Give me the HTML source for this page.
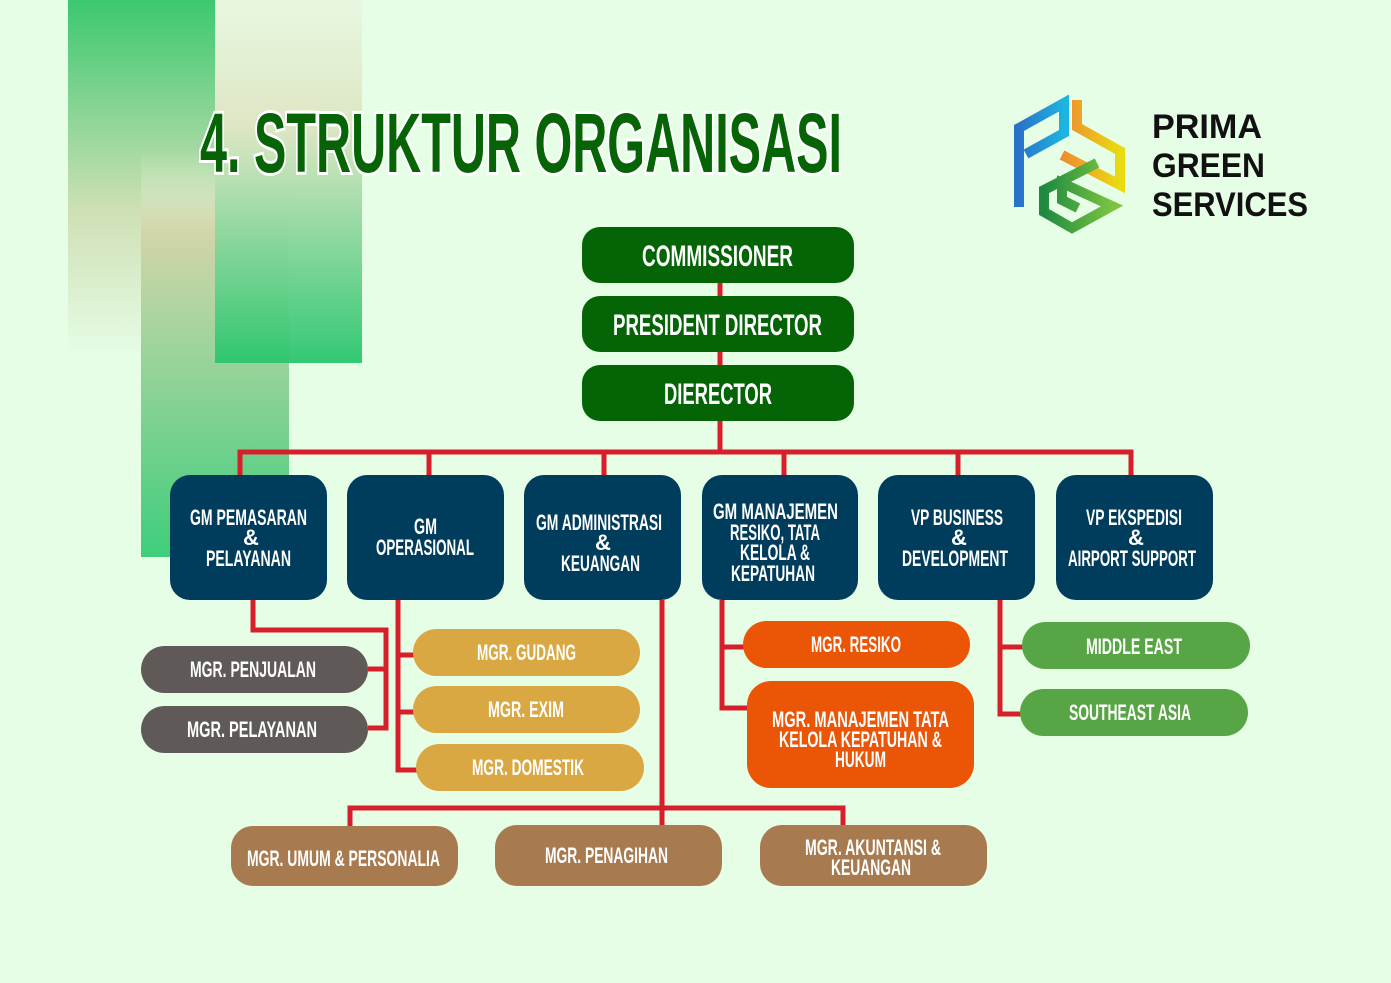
<!DOCTYPE html>
<html><head><meta charset="utf-8"><style>
html,body{margin:0;padding:0;background:#e6fde6;}
svg{display:block}
.t{font-family:"Liberation Sans Narrow","Liberation Sans",sans-serif;font-weight:bold;fill:#fff;text-anchor:start}
</style></head><body>
<svg width="1391" height="983" viewBox="0 0 1391 983" xmlns="http://www.w3.org/2000/svg">
<defs>
<linearGradient id="gA" x1="0" y1="0" x2="0" y2="1"><stop offset="0" stop-color="#3cc870"/><stop offset="0.6" stop-color="#cfe0b5"/><stop offset="1" stop-color="#e6fde6"/></linearGradient>
<linearGradient id="gB" x1="0" y1="0" x2="0" y2="1"><stop offset="0" stop-color="#e6fde6" stop-opacity="0"/><stop offset="0.2" stop-color="#d2d3a8"/><stop offset="1" stop-color="#2cc870"/></linearGradient>
<linearGradient id="gC" x1="0" y1="0" x2="0" y2="1"><stop offset="0" stop-color="#e8f7e0"/><stop offset="0.35" stop-color="#dde5c2"/><stop offset="1" stop-color="#2ac66e"/></linearGradient>
<linearGradient id="lgP" x1="0" y1="0" x2="1" y2="0"><stop offset="0" stop-color="#2a72c8"/><stop offset="1" stop-color="#1eb4e0"/></linearGradient>
<linearGradient id="lgS" x1="0" y1="0" x2="1" y2="0"><stop offset="0" stop-color="#f08a30"/><stop offset="1" stop-color="#e8dc10"/></linearGradient>
<linearGradient id="lgG" x1="0" y1="0" x2="1" y2="0"><stop offset="0" stop-color="#1e8a40"/><stop offset="1" stop-color="#7cc440"/></linearGradient>
</defs>
<rect x="68" y="0" width="147" height="355" fill="url(#gA)"/>
<rect x="141" y="150" width="148" height="407" fill="url(#gB)" opacity="0.9"/>
<rect x="215" y="0" width="147" height="363" fill="url(#gC)" opacity="0.95"/>

<text x="200" y="172" textLength="642" lengthAdjust="spacingAndGlyphs" style="font-family:'Liberation Sans Narrow','Liberation Sans',sans-serif;font-weight:bold;font-size:84px;fill:#066406;stroke:#fff;stroke-width:6;paint-order:stroke">4. STRUKTUR ORGANISASI</text>

<!-- logo -->
<g fill="none" stroke-width="10" stroke-linejoin="miter">
<path d="M1019,207 L1019,128 L1064,103 L1064,133 L1026,154" stroke="url(#lgP)"/>
<path d="M1077,100 L1077,127 L1120,151 L1120,185 L1062,155" stroke="url(#lgS)"/>
<path d="M1097,163 L1044,190 L1044,212 L1072,228 L1112,206 L1062,183 L1062,200 L1078,208" stroke="url(#lgG)"/>
</g>
<g style="font-family:'Liberation Sans',sans-serif;font-weight:bold;font-size:34px;fill:#111">
<text x="1152" y="138" textLength="110" lengthAdjust="spacingAndGlyphs">PRIMA</text>
<text x="1152" y="177" textLength="113" lengthAdjust="spacingAndGlyphs">GREEN</text>
<text x="1152" y="216" textLength="156" lengthAdjust="spacingAndGlyphs">SERVICES</text>
</g>

<!-- connectors -->
<g stroke="#d61f2a" stroke-width="5" fill="none">
<path d="M720,283 V452"/>
<path d="M240,477 V452 H1131 V477"/>
<path d="M429,452 V477 M604,452 V477 M784,452 V477 M958,452 V477"/>
<path d="M253,600 V630 H386 V728 H368 M368,669 H386"/>
<path d="M398,600 V770 H417 M398,655 H414 M398,712 H414"/>
<path d="M662,600 V826 M350,826 V808 H843 V826"/>
<path d="M722,600 V708 H748 M722,647 H744"/>
<path d="M1000,600 V714 H1021 M1000,647 H1023"/>
</g>

<!-- top boxes -->
<g fill="#056405">
<rect x="582" y="227" width="272" height="56" rx="18"/>
<rect x="582" y="296" width="272" height="56" rx="18"/>
<rect x="582" y="365" width="272" height="56" rx="18"/>
</g>
<g class="t" style="font-size:30px">
<text class="t" x="642" y="266" textLength="151" lengthAdjust="spacingAndGlyphs">COMMISSIONER</text>
<text class="t" x="613" y="335" textLength="209" lengthAdjust="spacingAndGlyphs">PRESIDENT DIRECTOR</text>
<text class="t" x="664" y="404" textLength="108" lengthAdjust="spacingAndGlyphs">DIERECTOR</text>
</g>

<!-- GM boxes -->
<g fill="#003c5c">
<rect x="170" y="475" width="157" height="125" rx="20"/>
<rect x="347" y="475" width="157" height="125" rx="20"/>
<rect x="524" y="475" width="157" height="125" rx="20"/>
<rect x="702" y="475" width="156" height="125" rx="20"/>
<rect x="878" y="475" width="157" height="125" rx="20"/>
<rect x="1056" y="475" width="157" height="125" rx="20"/>
</g>
<g class="t" style="font-size:22px">
<text class="t" x="190" y="525" textLength="117" lengthAdjust="spacingAndGlyphs">GM PEMASARAN</text>
<text class="t" x="243" y="545">&amp;</text>
<text class="t" x="206" y="566" textLength="85" lengthAdjust="spacingAndGlyphs">PELAYANAN</text>
<text class="t" x="414" y="534" textLength="23" lengthAdjust="spacingAndGlyphs">GM</text>
<text class="t" x="376" y="555" textLength="98" lengthAdjust="spacingAndGlyphs">OPERASIONAL</text>
<text class="t" x="536" y="530" textLength="126" lengthAdjust="spacingAndGlyphs">GM ADMINISTRASI</text>
<text class="t" x="595" y="550">&amp;</text>
<text class="t" x="561" y="571" textLength="79" lengthAdjust="spacingAndGlyphs">KEUANGAN</text>
<text class="t" x="713" y="519" textLength="125" lengthAdjust="spacingAndGlyphs">GM  MANAJEMEN</text>
<text class="t" x="730" y="540" textLength="90" lengthAdjust="spacingAndGlyphs">RESIKO, TATA</text>
<text class="t" x="740" y="560" textLength="70" lengthAdjust="spacingAndGlyphs">KELOLA &amp;</text>
<text class="t" x="731" y="581" textLength="84" lengthAdjust="spacingAndGlyphs">KEPATUHAN</text>
<text class="t" x="911" y="525" textLength="92" lengthAdjust="spacingAndGlyphs">VP BUSINESS</text>
<text class="t" x="951" y="545">&amp;</text>
<text class="t" x="902" y="566" textLength="106" lengthAdjust="spacingAndGlyphs">DEVELOPMENT</text>
<text class="t" x="1086" y="525" textLength="96" lengthAdjust="spacingAndGlyphs">VP EKSPEDISI</text>
<text class="t" x="1128" y="545">&amp;</text>
<text class="t" x="1068" y="566" textLength="128" lengthAdjust="spacingAndGlyphs">AIRPORT SUPPORT</text>
</g>

<!-- leaf boxes -->
<g fill="#5f5a58">
<rect x="141" y="646" width="227" height="47" rx="23.5"/>
<rect x="141" y="706" width="227" height="47" rx="23.5"/>
</g>
<g fill="#d9a843">
<rect x="413" y="629" width="227" height="47" rx="23.5"/>
<rect x="413" y="686" width="227" height="47" rx="23.5"/>
<rect x="416" y="744" width="228" height="47" rx="23.5"/>
</g>
<g fill="#ea5506">
<rect x="743" y="621" width="227" height="47" rx="23.5"/>
<rect x="747" y="681" width="227" height="107" rx="24"/>
</g>
<g fill="#58a545">
<rect x="1022" y="622" width="228" height="47" rx="23.5"/>
<rect x="1020" y="689" width="228" height="47" rx="23.5"/>
</g>
<g fill="#a87a4f">
<rect x="231" y="826" width="227" height="60" rx="22"/>
<rect x="495" y="825" width="227" height="61" rx="22"/>
<rect x="760" y="825" width="227" height="61" rx="22"/>
</g>
<g class="t" style="font-size:22px">
<text class="t" x="190" y="677" textLength="126" lengthAdjust="spacingAndGlyphs">MGR. PENJUALAN</text>
<text class="t" x="187" y="737" textLength="130" lengthAdjust="spacingAndGlyphs">MGR. PELAYANAN</text>
<text class="t" x="477" y="660" textLength="99" lengthAdjust="spacingAndGlyphs">MGR. GUDANG</text>
<text class="t" x="488" y="717" textLength="76" lengthAdjust="spacingAndGlyphs">MGR. EXIM</text>
<text class="t" x="472" y="775" textLength="112" lengthAdjust="spacingAndGlyphs">MGR. DOMESTIK</text>
<text class="t" x="811" y="652" textLength="90" lengthAdjust="spacingAndGlyphs">MGR. RESIKO</text>
<text class="t" x="772" y="727" textLength="177" lengthAdjust="spacingAndGlyphs">MGR. MANAJEMEN TATA</text>
<text class="t" x="779" y="747" textLength="163" lengthAdjust="spacingAndGlyphs">KELOLA KEPATUHAN &amp;</text>
<text class="t" x="835" y="767" textLength="51" lengthAdjust="spacingAndGlyphs">HUKUM</text>
<text class="t" x="1086" y="654" textLength="96" lengthAdjust="spacingAndGlyphs">MIDDLE EAST</text>
<text class="t" x="1069" y="720" textLength="122" lengthAdjust="spacingAndGlyphs">SOUTHEAST ASIA</text>
<text class="t" x="247" y="866" textLength="193" lengthAdjust="spacingAndGlyphs">MGR. UMUM &amp; PERSONALIA</text>
<text class="t" x="545" y="863" textLength="123" lengthAdjust="spacingAndGlyphs">MGR. PENAGIHAN</text>
<text class="t" x="805" y="855" textLength="136" lengthAdjust="spacingAndGlyphs">MGR. AKUNTANSI &amp;</text>
<text class="t" x="831" y="875" textLength="80" lengthAdjust="spacingAndGlyphs">KEUANGAN</text>
</g>
</svg>
</body></html>
